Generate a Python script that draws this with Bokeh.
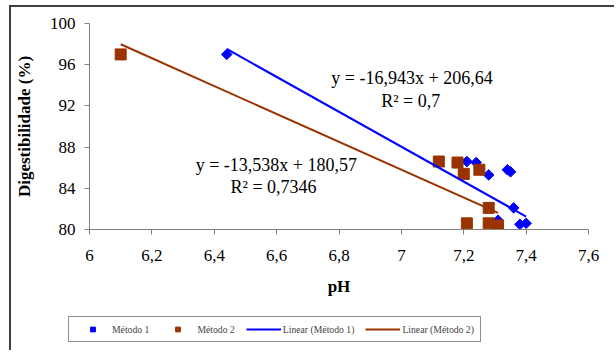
import numpy as np
from bokeh.plotting import figure
from bokeh.models import Range1d, FixedTicker, Legend, LegendItem, Label
from bokeh.embed import file_html
from bokeh.resources import INLINE

# ---- data ----
ph_m1 = [6.44, 7.21, 7.24, 7.28, 7.34, 7.35, 7.36, 7.31, 7.38, 7.40]
dig_m1 = [97.0, 86.6, 86.5, 85.3, 85.8, 85.6, 82.1, 80.9, 80.5, 80.6]
ph_m2 = [6.10, 7.12, 7.18, 7.20, 7.25, 7.28, 7.21, 7.28, 7.31]
dig_m2 = [97.0, 86.6, 86.5, 85.4, 85.8, 82.1, 80.6, 80.6, 80.4]
slope_m1, intercept_m1 = -16.943, 206.64
slope_m2, intercept_m2 = -13.538, 180.57
eq_m1 = ["y = -16,943x + 206,64", "R² = 0,7"]
eq_m2 = ["y = -13,538x + 180,57", "R² = 0,7346"]
x_ticks = [6.0, 6.2, 6.4, 6.6, 6.8, 7.0, 7.2, 7.4, 7.6]
x_tick_labels = ["6", "6,2", "6,4", "6,6", "6,8", "7", "7,2", "7,4", "7,6"]
y_ticks = [80, 84, 88, 92, 96, 100]
series_names = ["Método 1", "Método 2", "Linear (Método 1)", "Linear (Método 2)"]

BLUE = "#0000FF"
BROWN = "#993300"
FONT = "Liberation Serif"

blue_marker = dict(marker="square", size=7.5, angle=np.pi / 4, fill_color=BLUE, line_color=BLUE)
brown_marker = dict(marker="square", size=11, fill_color=BROWN, line_color=BROWN)

x1 = np.array([min(ph_m1), max(ph_m1)])
x2 = np.array([min(ph_m2), max(ph_m2)])
y1 = slope_m1 * x1 + intercept_m1
y2 = slope_m2 * x2 + intercept_m2

# ---------------- main chart ----------------
p = figure(width=605, height=300, x_range=Range1d(6, 7.6), y_range=Range1d(80, 100),
           output_backend="svg", toolbar_location=None,
           min_border_left=76, min_border_right=28, min_border_top=16, min_border_bottom=78)
p.styles = {"margin-left": "9px", "margin-top": "5px",
            "border-left": "2px solid #404040", "border-top": "2px solid #404040"}
p.outline_line_color = None
p.xgrid.visible = False
p.ygrid.visible = False
p.background_fill_color = "white"
p.border_fill_color = "white"

p.scatter(ph_m1, dig_m1, **blue_marker)
p.scatter(ph_m2, dig_m2, **brown_marker)
p.line(x1, y1, line_color=BLUE, line_width=2)
p.line(x2, y2, line_color=BROWN, line_width=2)

for ax in (p.xaxis[0], p.yaxis[0]):
    ax.axis_line_color = "#808080"
    ax.major_tick_line_color = "#808080"
    ax.major_tick_in = 0
    ax.major_tick_out = 5
    ax.minor_tick_line_color = None
    ax.major_label_text_font = FONT
    ax.major_label_text_font_size = "17px"
    ax.major_label_text_color = "black"
    ax.axis_label_text_font = FONT
    ax.axis_label_text_font_size = "17px"
    ax.axis_label_text_font_style = "bold"
    ax.axis_label_text_color = "black"

p.xaxis.ticker = FixedTicker(ticks=x_ticks)
p.xaxis.major_label_overrides = {t: s for t, s in zip(x_ticks, x_tick_labels)}
p.yaxis.ticker = FixedTicker(ticks=y_ticks)
p.xaxis.axis_label = "pH"
p.yaxis.axis_label = "Digestibilidade (%)"
p.xaxis.major_label_standoff = 15
p.xaxis.axis_label_standoff = 13
p.yaxis.major_label_standoff = 9
p.yaxis.axis_label_standoff = 13

for (tx, ty, txt) in [(7.034, 94.7, eq_m1[0]), (7.03, 92.5, eq_m1[1]),
                      (6.599, 86.3, eq_m2[0]), (6.59, 84.1, eq_m2[1])]:
    p.add_layout(Label(x=tx, y=ty, text=txt, text_align="center", text_baseline="middle",
                       text_font=FONT, text_font_size="18px", text_color="black"))

# ---------------- legend strip (separate root, so its frame is not aligned to the chart) ----------------
# Same series drawn again, but outside this strip's visible range, so only the legend shows.
pl = figure(width=605, height=45, x_range=Range1d(0, 1), y_range=Range1d(0, 1),
            output_backend="svg", toolbar_location=None,
            min_border=0, min_border_left=0, min_border_right=0,
            min_border_top=0, min_border_bottom=0,
            x_axis_location=None, y_axis_location=None)
pl.styles = {"margin-left": "9px", "border-left": "2px solid #404040"}
pl.outline_line_color = None
pl.xgrid.visible = False
pl.ygrid.visible = False
pl.background_fill_color = "white"
pl.border_fill_color = "white"

g1 = pl.scatter(ph_m1, dig_m1, **blue_marker)
g2 = pl.scatter(ph_m2, dig_m2, **brown_marker)
g3 = pl.line(x1, y1, line_color=BLUE, line_width=2)
g4 = pl.line(x2, y2, line_color=BROWN, line_width=2)

legend = Legend(items=[LegendItem(label=series_names[0], renderers=[g1]),
                       LegendItem(label=series_names[1], renderers=[g2]),
                       LegendItem(label=series_names[2], renderers=[g3]),
                       LegendItem(label=series_names[3], renderers=[g4])],
                orientation="horizontal", location=(57, 8),
                padding=6, spacing=11, label_standoff=2,
                glyph_width=35, glyph_height=12, label_height=12,
                label_text_font=FONT, label_text_font_size="9.7px",
                border_line_color="#202020", border_line_width=1,
                background_fill_color="white", background_fill_alpha=1,
                margin=0)
pl.add_layout(legend, "center")

open("out.html", "w").write(file_html([p, pl], INLINE))
